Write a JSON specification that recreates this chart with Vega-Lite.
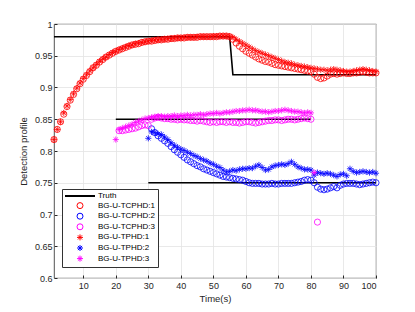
{
"$schema": "https://vega.github.io/schema/vega-lite/v6.json",
"width": 322, "height": 254,
"autosize": {"type": "none"},
"padding": {"left": 54, "top": 24, "right": 39, "bottom": 34},
"background": "white",
"config": {"view": {"stroke": "#262626", "strokeWidth": 0.8}, "font": "Liberation Sans"},
"datasets": {
"truth": [
{"series":"Truth","seg":"a","t":1,"v":0.98},{"series":"Truth","seg":"a","t":55,"v":0.98},{"series":"Truth","seg":"a","t":56,"v":0.92},{"series":"Truth","seg":"a","t":100,"v":0.92},
{"series":"Truth","seg":"b","t":20,"v":0.85},{"series":"Truth","seg":"b","t":80,"v":0.85},
{"series":"Truth","seg":"c","t":30,"v":0.75},{"series":"Truth","seg":"c","t":100,"v":0.75}
],
"pts": [
{"series":"BG-U-TCPHD:1","t":1,"v":0.818},{"series":"BG-U-TCPHD:1","t":2,"v":0.834},{"series":"BG-U-TCPHD:1","t":3,"v":0.846},{"series":"BG-U-TCPHD:1","t":4,"v":0.858},{"series":"BG-U-TCPHD:1","t":5,"v":0.870},{"series":"BG-U-TCPHD:1","t":6,"v":0.880},{"series":"BG-U-TCPHD:1","t":7,"v":0.889},{"series":"BG-U-TCPHD:1","t":8,"v":0.898},{"series":"BG-U-TCPHD:1","t":9,"v":0.906},{"series":"BG-U-TCPHD:1","t":10,"v":0.913},
{"series":"BG-U-TCPHD:1","t":11,"v":0.919},{"series":"BG-U-TCPHD:1","t":12,"v":0.925},{"series":"BG-U-TCPHD:1","t":13,"v":0.931},{"series":"BG-U-TCPHD:1","t":14,"v":0.935},{"series":"BG-U-TCPHD:1","t":15,"v":0.940},{"series":"BG-U-TCPHD:1","t":16,"v":0.944},{"series":"BG-U-TCPHD:1","t":17,"v":0.948},{"series":"BG-U-TCPHD:1","t":18,"v":0.951},{"series":"BG-U-TCPHD:1","t":19,"v":0.954},{"series":"BG-U-TCPHD:1","t":20,"v":0.957},
{"series":"BG-U-TCPHD:1","t":21,"v":0.959},{"series":"BG-U-TCPHD:1","t":22,"v":0.961},{"series":"BG-U-TCPHD:1","t":23,"v":0.963},{"series":"BG-U-TCPHD:1","t":24,"v":0.965},{"series":"BG-U-TCPHD:1","t":25,"v":0.967},{"series":"BG-U-TCPHD:1","t":26,"v":0.968},{"series":"BG-U-TCPHD:1","t":27,"v":0.969},{"series":"BG-U-TCPHD:1","t":28,"v":0.971},{"series":"BG-U-TCPHD:1","t":29,"v":0.972},{"series":"BG-U-TCPHD:1","t":30,"v":0.973},
{"series":"BG-U-TCPHD:1","t":31,"v":0.973},{"series":"BG-U-TCPHD:1","t":32,"v":0.974},{"series":"BG-U-TCPHD:1","t":33,"v":0.975},{"series":"BG-U-TCPHD:1","t":34,"v":0.975},{"series":"BG-U-TCPHD:1","t":35,"v":0.976},{"series":"BG-U-TCPHD:1","t":36,"v":0.976},{"series":"BG-U-TCPHD:1","t":37,"v":0.977},{"series":"BG-U-TCPHD:1","t":38,"v":0.977},{"series":"BG-U-TCPHD:1","t":39,"v":0.978},{"series":"BG-U-TCPHD:1","t":40,"v":0.978},
{"series":"BG-U-TCPHD:1","t":41,"v":0.978},{"series":"BG-U-TCPHD:1","t":42,"v":0.979},{"series":"BG-U-TCPHD:1","t":43,"v":0.979},{"series":"BG-U-TCPHD:1","t":44,"v":0.979},{"series":"BG-U-TCPHD:1","t":45,"v":0.979},{"series":"BG-U-TCPHD:1","t":46,"v":0.980},{"series":"BG-U-TCPHD:1","t":47,"v":0.980},{"series":"BG-U-TCPHD:1","t":48,"v":0.980},{"series":"BG-U-TCPHD:1","t":49,"v":0.980},{"series":"BG-U-TCPHD:1","t":50,"v":0.980},
{"series":"BG-U-TCPHD:1","t":51,"v":0.980},{"series":"BG-U-TCPHD:1","t":52,"v":0.981},{"series":"BG-U-TCPHD:1","t":53,"v":0.981},{"series":"BG-U-TCPHD:1","t":54,"v":0.981},{"series":"BG-U-TCPHD:1","t":55,"v":0.980},{"series":"BG-U-TCPHD:1","t":56,"v":0.976},{"series":"BG-U-TCPHD:1","t":57,"v":0.970},{"series":"BG-U-TCPHD:1","t":58,"v":0.965},{"series":"BG-U-TCPHD:1","t":59,"v":0.961},{"series":"BG-U-TCPHD:1","t":60,"v":0.957},
{"series":"BG-U-TCPHD:1","t":61,"v":0.954},{"series":"BG-U-TCPHD:1","t":62,"v":0.951},{"series":"BG-U-TCPHD:1","t":63,"v":0.948},{"series":"BG-U-TCPHD:1","t":64,"v":0.945},{"series":"BG-U-TCPHD:1","t":65,"v":0.943},{"series":"BG-U-TCPHD:1","t":66,"v":0.941},{"series":"BG-U-TCPHD:1","t":67,"v":0.940},{"series":"BG-U-TCPHD:1","t":68,"v":0.938},{"series":"BG-U-TCPHD:1","t":69,"v":0.936},{"series":"BG-U-TCPHD:1","t":70,"v":0.935},
{"series":"BG-U-TCPHD:1","t":71,"v":0.934},{"series":"BG-U-TCPHD:1","t":72,"v":0.933},{"series":"BG-U-TCPHD:1","t":73,"v":0.932},{"series":"BG-U-TCPHD:1","t":74,"v":0.931},{"series":"BG-U-TCPHD:1","t":75,"v":0.930},{"series":"BG-U-TCPHD:1","t":76,"v":0.929},{"series":"BG-U-TCPHD:1","t":77,"v":0.928},{"series":"BG-U-TCPHD:1","t":78,"v":0.927},{"series":"BG-U-TCPHD:1","t":79,"v":0.926},{"series":"BG-U-TCPHD:1","t":80,"v":0.925},
{"series":"BG-U-TCPHD:1","t":81,"v":0.921},{"series":"BG-U-TCPHD:1","t":82,"v":0.916},{"series":"BG-U-TCPHD:1","t":83,"v":0.914},{"series":"BG-U-TCPHD:1","t":84,"v":0.915},{"series":"BG-U-TCPHD:1","t":85,"v":0.918},{"series":"BG-U-TCPHD:1","t":86,"v":0.921},{"series":"BG-U-TCPHD:1","t":87,"v":0.922},{"series":"BG-U-TCPHD:1","t":88,"v":0.921},{"series":"BG-U-TCPHD:1","t":89,"v":0.922},{"series":"BG-U-TCPHD:1","t":90,"v":0.923},
{"series":"BG-U-TCPHD:1","t":91,"v":0.922},{"series":"BG-U-TCPHD:1","t":92,"v":0.922},{"series":"BG-U-TCPHD:1","t":93,"v":0.923},{"series":"BG-U-TCPHD:1","t":94,"v":0.923},{"series":"BG-U-TCPHD:1","t":95,"v":0.924},{"series":"BG-U-TCPHD:1","t":96,"v":0.925},{"series":"BG-U-TCPHD:1","t":97,"v":0.924},{"series":"BG-U-TCPHD:1","t":98,"v":0.923},{"series":"BG-U-TCPHD:1","t":99,"v":0.923},{"series":"BG-U-TCPHD:1","t":100,"v":0.923},

{"series":"BG-U-TCPHD:2","t":31,"v":0.835},{"series":"BG-U-TCPHD:2","t":32,"v":0.829},{"series":"BG-U-TCPHD:2","t":33,"v":0.824},{"series":"BG-U-TCPHD:2","t":34,"v":0.820},{"series":"BG-U-TCPHD:2","t":35,"v":0.816},{"series":"BG-U-TCPHD:2","t":36,"v":0.812},{"series":"BG-U-TCPHD:2","t":37,"v":0.807},{"series":"BG-U-TCPHD:2","t":38,"v":0.802},{"series":"BG-U-TCPHD:2","t":39,"v":0.798},{"series":"BG-U-TCPHD:2","t":40,"v":0.794},
{"series":"BG-U-TCPHD:2","t":41,"v":0.790},{"series":"BG-U-TCPHD:2","t":42,"v":0.786},{"series":"BG-U-TCPHD:2","t":43,"v":0.783},{"series":"BG-U-TCPHD:2","t":44,"v":0.780},{"series":"BG-U-TCPHD:2","t":45,"v":0.777},{"series":"BG-U-TCPHD:2","t":46,"v":0.775},{"series":"BG-U-TCPHD:2","t":47,"v":0.772},{"series":"BG-U-TCPHD:2","t":48,"v":0.770},{"series":"BG-U-TCPHD:2","t":49,"v":0.768},{"series":"BG-U-TCPHD:2","t":50,"v":0.766},
{"series":"BG-U-TCPHD:2","t":51,"v":0.764},{"series":"BG-U-TCPHD:2","t":52,"v":0.762},{"series":"BG-U-TCPHD:2","t":53,"v":0.760},{"series":"BG-U-TCPHD:2","t":54,"v":0.759},{"series":"BG-U-TCPHD:2","t":55,"v":0.758},{"series":"BG-U-TCPHD:2","t":56,"v":0.757},{"series":"BG-U-TCPHD:2","t":57,"v":0.756},{"series":"BG-U-TCPHD:2","t":58,"v":0.755},{"series":"BG-U-TCPHD:2","t":59,"v":0.754},{"series":"BG-U-TCPHD:2","t":60,"v":0.752},
{"series":"BG-U-TCPHD:2","t":61,"v":0.750},{"series":"BG-U-TCPHD:2","t":62,"v":0.749},{"series":"BG-U-TCPHD:2","t":63,"v":0.749},{"series":"BG-U-TCPHD:2","t":64,"v":0.749},{"series":"BG-U-TCPHD:2","t":65,"v":0.748},{"series":"BG-U-TCPHD:2","t":66,"v":0.748},{"series":"BG-U-TCPHD:2","t":67,"v":0.748},{"series":"BG-U-TCPHD:2","t":68,"v":0.749},{"series":"BG-U-TCPHD:2","t":69,"v":0.748},{"series":"BG-U-TCPHD:2","t":70,"v":0.748},
{"series":"BG-U-TCPHD:2","t":71,"v":0.749},{"series":"BG-U-TCPHD:2","t":72,"v":0.749},{"series":"BG-U-TCPHD:2","t":73,"v":0.749},{"series":"BG-U-TCPHD:2","t":74,"v":0.749},{"series":"BG-U-TCPHD:2","t":75,"v":0.750},{"series":"BG-U-TCPHD:2","t":76,"v":0.751},{"series":"BG-U-TCPHD:2","t":77,"v":0.752},{"series":"BG-U-TCPHD:2","t":78,"v":0.754},{"series":"BG-U-TCPHD:2","t":79,"v":0.755},{"series":"BG-U-TCPHD:2","t":80,"v":0.754},
{"series":"BG-U-TCPHD:2","t":81,"v":0.750},{"series":"BG-U-TCPHD:2","t":82,"v":0.743},{"series":"BG-U-TCPHD:2","t":83,"v":0.740},{"series":"BG-U-TCPHD:2","t":84,"v":0.739},{"series":"BG-U-TCPHD:2","t":85,"v":0.740},{"series":"BG-U-TCPHD:2","t":86,"v":0.742},{"series":"BG-U-TCPHD:2","t":87,"v":0.744},{"series":"BG-U-TCPHD:2","t":88,"v":0.742},{"series":"BG-U-TCPHD:2","t":89,"v":0.746},{"series":"BG-U-TCPHD:2","t":90,"v":0.748},
{"series":"BG-U-TCPHD:2","t":91,"v":0.749},{"series":"BG-U-TCPHD:2","t":92,"v":0.749},{"series":"BG-U-TCPHD:2","t":93,"v":0.749},{"series":"BG-U-TCPHD:2","t":94,"v":0.748},{"series":"BG-U-TCPHD:2","t":95,"v":0.747},{"series":"BG-U-TCPHD:2","t":96,"v":0.748},{"series":"BG-U-TCPHD:2","t":97,"v":0.749},{"series":"BG-U-TCPHD:2","t":98,"v":0.750},{"series":"BG-U-TCPHD:2","t":99,"v":0.751},{"series":"BG-U-TCPHD:2","t":100,"v":0.750},

{"series":"BG-U-TCPHD:3","t":21,"v":0.832},{"series":"BG-U-TCPHD:3","t":22,"v":0.832},{"series":"BG-U-TCPHD:3","t":23,"v":0.833},{"series":"BG-U-TCPHD:3","t":24,"v":0.834},{"series":"BG-U-TCPHD:3","t":25,"v":0.835},{"series":"BG-U-TCPHD:3","t":26,"v":0.836},{"series":"BG-U-TCPHD:3","t":27,"v":0.838},{"series":"BG-U-TCPHD:3","t":28,"v":0.840},{"series":"BG-U-TCPHD:3","t":29,"v":0.841},{"series":"BG-U-TCPHD:3","t":30,"v":0.840},
{"series":"BG-U-TCPHD:3","t":31,"v":0.850},{"series":"BG-U-TCPHD:3","t":32,"v":0.852},{"series":"BG-U-TCPHD:3","t":33,"v":0.853},{"series":"BG-U-TCPHD:3","t":34,"v":0.852},{"series":"BG-U-TCPHD:3","t":35,"v":0.851},{"series":"BG-U-TCPHD:3","t":36,"v":0.851},{"series":"BG-U-TCPHD:3","t":37,"v":0.850},{"series":"BG-U-TCPHD:3","t":38,"v":0.850},{"series":"BG-U-TCPHD:3","t":39,"v":0.849},{"series":"BG-U-TCPHD:3","t":40,"v":0.850},
{"series":"BG-U-TCPHD:3","t":41,"v":0.849},{"series":"BG-U-TCPHD:3","t":42,"v":0.849},{"series":"BG-U-TCPHD:3","t":43,"v":0.848},{"series":"BG-U-TCPHD:3","t":44,"v":0.848},{"series":"BG-U-TCPHD:3","t":45,"v":0.847},{"series":"BG-U-TCPHD:3","t":46,"v":0.848},{"series":"BG-U-TCPHD:3","t":47,"v":0.847},{"series":"BG-U-TCPHD:3","t":48,"v":0.846},{"series":"BG-U-TCPHD:3","t":49,"v":0.845},{"series":"BG-U-TCPHD:3","t":50,"v":0.846},
{"series":"BG-U-TCPHD:3","t":51,"v":0.845},{"series":"BG-U-TCPHD:3","t":52,"v":0.846},{"series":"BG-U-TCPHD:3","t":53,"v":0.846},{"series":"BG-U-TCPHD:3","t":54,"v":0.845},{"series":"BG-U-TCPHD:3","t":55,"v":0.846},{"series":"BG-U-TCPHD:3","t":56,"v":0.845},{"series":"BG-U-TCPHD:3","t":57,"v":0.845},{"series":"BG-U-TCPHD:3","t":58,"v":0.844},{"series":"BG-U-TCPHD:3","t":59,"v":0.845},{"series":"BG-U-TCPHD:3","t":60,"v":0.846},
{"series":"BG-U-TCPHD:3","t":61,"v":0.846},{"series":"BG-U-TCPHD:3","t":62,"v":0.845},{"series":"BG-U-TCPHD:3","t":63,"v":0.844},{"series":"BG-U-TCPHD:3","t":64,"v":0.845},{"series":"BG-U-TCPHD:3","t":65,"v":0.846},{"series":"BG-U-TCPHD:3","t":66,"v":0.847},{"series":"BG-U-TCPHD:3","t":67,"v":0.848},{"series":"BG-U-TCPHD:3","t":68,"v":0.848},{"series":"BG-U-TCPHD:3","t":69,"v":0.849},{"series":"BG-U-TCPHD:3","t":70,"v":0.849},
{"series":"BG-U-TCPHD:3","t":71,"v":0.848},{"series":"BG-U-TCPHD:3","t":72,"v":0.849},{"series":"BG-U-TCPHD:3","t":73,"v":0.850},{"series":"BG-U-TCPHD:3","t":74,"v":0.850},{"series":"BG-U-TCPHD:3","t":75,"v":0.849},{"series":"BG-U-TCPHD:3","t":76,"v":0.850},{"series":"BG-U-TCPHD:3","t":77,"v":0.851},{"series":"BG-U-TCPHD:3","t":78,"v":0.852},{"series":"BG-U-TCPHD:3","t":79,"v":0.851},{"series":"BG-U-TCPHD:3","t":80,"v":0.850},
{"series":"BG-U-TCPHD:3","t":82,"v":0.688},

{"series":"BG-U-TPHD:1","t":1,"v":0.818},{"series":"BG-U-TPHD:1","t":2,"v":0.834},{"series":"BG-U-TPHD:1","t":3,"v":0.846},{"series":"BG-U-TPHD:1","t":4,"v":0.860},{"series":"BG-U-TPHD:1","t":5,"v":0.871},{"series":"BG-U-TPHD:1","t":6,"v":0.881},{"series":"BG-U-TPHD:1","t":7,"v":0.890},{"series":"BG-U-TPHD:1","t":8,"v":0.899},{"series":"BG-U-TPHD:1","t":9,"v":0.907},{"series":"BG-U-TPHD:1","t":10,"v":0.914},
{"series":"BG-U-TPHD:1","t":11,"v":0.920},{"series":"BG-U-TPHD:1","t":12,"v":0.926},{"series":"BG-U-TPHD:1","t":13,"v":0.931},{"series":"BG-U-TPHD:1","t":14,"v":0.936},{"series":"BG-U-TPHD:1","t":15,"v":0.941},{"series":"BG-U-TPHD:1","t":16,"v":0.945},{"series":"BG-U-TPHD:1","t":17,"v":0.948},{"series":"BG-U-TPHD:1","t":18,"v":0.952},{"series":"BG-U-TPHD:1","t":19,"v":0.955},{"series":"BG-U-TPHD:1","t":20,"v":0.957},
{"series":"BG-U-TPHD:1","t":21,"v":0.960},{"series":"BG-U-TPHD:1","t":22,"v":0.962},{"series":"BG-U-TPHD:1","t":23,"v":0.964},{"series":"BG-U-TPHD:1","t":24,"v":0.966},{"series":"BG-U-TPHD:1","t":25,"v":0.967},{"series":"BG-U-TPHD:1","t":26,"v":0.969},{"series":"BG-U-TPHD:1","t":27,"v":0.970},{"series":"BG-U-TPHD:1","t":28,"v":0.971},{"series":"BG-U-TPHD:1","t":29,"v":0.972},{"series":"BG-U-TPHD:1","t":30,"v":0.973},
{"series":"BG-U-TPHD:1","t":31,"v":0.974},{"series":"BG-U-TPHD:1","t":32,"v":0.975},{"series":"BG-U-TPHD:1","t":33,"v":0.975},{"series":"BG-U-TPHD:1","t":34,"v":0.976},{"series":"BG-U-TPHD:1","t":35,"v":0.976},{"series":"BG-U-TPHD:1","t":36,"v":0.977},{"series":"BG-U-TPHD:1","t":37,"v":0.977},{"series":"BG-U-TPHD:1","t":38,"v":0.978},{"series":"BG-U-TPHD:1","t":39,"v":0.978},{"series":"BG-U-TPHD:1","t":40,"v":0.978},
{"series":"BG-U-TPHD:1","t":41,"v":0.979},{"series":"BG-U-TPHD:1","t":42,"v":0.979},{"series":"BG-U-TPHD:1","t":43,"v":0.979},{"series":"BG-U-TPHD:1","t":44,"v":0.979},{"series":"BG-U-TPHD:1","t":45,"v":0.980},{"series":"BG-U-TPHD:1","t":46,"v":0.980},{"series":"BG-U-TPHD:1","t":47,"v":0.980},{"series":"BG-U-TPHD:1","t":48,"v":0.980},{"series":"BG-U-TPHD:1","t":49,"v":0.980},{"series":"BG-U-TPHD:1","t":50,"v":0.981},
{"series":"BG-U-TPHD:1","t":51,"v":0.981},{"series":"BG-U-TPHD:1","t":52,"v":0.981},{"series":"BG-U-TPHD:1","t":53,"v":0.981},{"series":"BG-U-TPHD:1","t":54,"v":0.981},{"series":"BG-U-TPHD:1","t":55,"v":0.981},{"series":"BG-U-TPHD:1","t":56,"v":0.979},{"series":"BG-U-TPHD:1","t":57,"v":0.976},{"series":"BG-U-TPHD:1","t":58,"v":0.973},{"series":"BG-U-TPHD:1","t":59,"v":0.970},{"series":"BG-U-TPHD:1","t":60,"v":0.967},
{"series":"BG-U-TPHD:1","t":61,"v":0.964},{"series":"BG-U-TPHD:1","t":62,"v":0.961},{"series":"BG-U-TPHD:1","t":63,"v":0.958},{"series":"BG-U-TPHD:1","t":64,"v":0.956},{"series":"BG-U-TPHD:1","t":65,"v":0.954},{"series":"BG-U-TPHD:1","t":66,"v":0.952},{"series":"BG-U-TPHD:1","t":67,"v":0.950},{"series":"BG-U-TPHD:1","t":68,"v":0.948},{"series":"BG-U-TPHD:1","t":69,"v":0.946},{"series":"BG-U-TPHD:1","t":70,"v":0.944},
{"series":"BG-U-TPHD:1","t":71,"v":0.942},{"series":"BG-U-TPHD:1","t":72,"v":0.940},{"series":"BG-U-TPHD:1","t":73,"v":0.939},{"series":"BG-U-TPHD:1","t":74,"v":0.938},{"series":"BG-U-TPHD:1","t":75,"v":0.936},{"series":"BG-U-TPHD:1","t":76,"v":0.935},{"series":"BG-U-TPHD:1","t":77,"v":0.934},{"series":"BG-U-TPHD:1","t":78,"v":0.933},{"series":"BG-U-TPHD:1","t":79,"v":0.932},{"series":"BG-U-TPHD:1","t":80,"v":0.931},
{"series":"BG-U-TPHD:1","t":81,"v":0.930},{"series":"BG-U-TPHD:1","t":82,"v":0.929},{"series":"BG-U-TPHD:1","t":83,"v":0.928},{"series":"BG-U-TPHD:1","t":84,"v":0.928},{"series":"BG-U-TPHD:1","t":85,"v":0.927},{"series":"BG-U-TPHD:1","t":86,"v":0.928},{"series":"BG-U-TPHD:1","t":87,"v":0.929},{"series":"BG-U-TPHD:1","t":88,"v":0.928},{"series":"BG-U-TPHD:1","t":89,"v":0.927},{"series":"BG-U-TPHD:1","t":90,"v":0.926},
{"series":"BG-U-TPHD:1","t":91,"v":0.925},{"series":"BG-U-TPHD:1","t":92,"v":0.925},{"series":"BG-U-TPHD:1","t":93,"v":0.926},{"series":"BG-U-TPHD:1","t":94,"v":0.927},{"series":"BG-U-TPHD:1","t":95,"v":0.928},{"series":"BG-U-TPHD:1","t":96,"v":0.929},{"series":"BG-U-TPHD:1","t":97,"v":0.928},{"series":"BG-U-TPHD:1","t":98,"v":0.927},{"series":"BG-U-TPHD:1","t":99,"v":0.926},{"series":"BG-U-TPHD:1","t":100,"v":0.925},

{"series":"BG-U-TPHD:2","t":30,"v":0.820},{"series":"BG-U-TPHD:2","t":31,"v":0.830},{"series":"BG-U-TPHD:2","t":32,"v":0.829},{"series":"BG-U-TPHD:2","t":33,"v":0.827},{"series":"BG-U-TPHD:2","t":34,"v":0.826},{"series":"BG-U-TPHD:2","t":35,"v":0.822},{"series":"BG-U-TPHD:2","t":36,"v":0.818},{"series":"BG-U-TPHD:2","t":37,"v":0.813},{"series":"BG-U-TPHD:2","t":38,"v":0.809},{"series":"BG-U-TPHD:2","t":39,"v":0.806},{"series":"BG-U-TPHD:2","t":40,"v":0.803},
{"series":"BG-U-TPHD:2","t":41,"v":0.801},{"series":"BG-U-TPHD:2","t":42,"v":0.798},{"series":"BG-U-TPHD:2","t":43,"v":0.796},{"series":"BG-U-TPHD:2","t":44,"v":0.793},{"series":"BG-U-TPHD:2","t":45,"v":0.791},{"series":"BG-U-TPHD:2","t":46,"v":0.788},{"series":"BG-U-TPHD:2","t":47,"v":0.786},{"series":"BG-U-TPHD:2","t":48,"v":0.784},{"series":"BG-U-TPHD:2","t":49,"v":0.781},{"series":"BG-U-TPHD:2","t":50,"v":0.779},
{"series":"BG-U-TPHD:2","t":51,"v":0.776},{"series":"BG-U-TPHD:2","t":52,"v":0.774},{"series":"BG-U-TPHD:2","t":53,"v":0.770},{"series":"BG-U-TPHD:2","t":54,"v":0.767},{"series":"BG-U-TPHD:2","t":55,"v":0.768},{"series":"BG-U-TPHD:2","t":56,"v":0.770},{"series":"BG-U-TPHD:2","t":57,"v":0.769},{"series":"BG-U-TPHD:2","t":58,"v":0.771},{"series":"BG-U-TPHD:2","t":59,"v":0.772},{"series":"BG-U-TPHD:2","t":60,"v":0.772},
{"series":"BG-U-TPHD:2","t":61,"v":0.773},{"series":"BG-U-TPHD:2","t":62,"v":0.773},{"series":"BG-U-TPHD:2","t":63,"v":0.776},{"series":"BG-U-TPHD:2","t":64,"v":0.778},{"series":"BG-U-TPHD:2","t":65,"v":0.774},{"series":"BG-U-TPHD:2","t":66,"v":0.770},{"series":"BG-U-TPHD:2","t":67,"v":0.771},{"series":"BG-U-TPHD:2","t":68,"v":0.775},{"series":"BG-U-TPHD:2","t":69,"v":0.777},{"series":"BG-U-TPHD:2","t":70,"v":0.778},
{"series":"BG-U-TPHD:2","t":71,"v":0.779},{"series":"BG-U-TPHD:2","t":72,"v":0.778},{"series":"BG-U-TPHD:2","t":73,"v":0.780},{"series":"BG-U-TPHD:2","t":74,"v":0.783},{"series":"BG-U-TPHD:2","t":75,"v":0.779},{"series":"BG-U-TPHD:2","t":76,"v":0.775},{"series":"BG-U-TPHD:2","t":77,"v":0.773},{"series":"BG-U-TPHD:2","t":78,"v":0.771},{"series":"BG-U-TPHD:2","t":79,"v":0.771},{"series":"BG-U-TPHD:2","t":80,"v":0.770},
{"series":"BG-U-TPHD:2","t":81,"v":0.762},{"series":"BG-U-TPHD:2","t":82,"v":0.766},{"series":"BG-U-TPHD:2","t":83,"v":0.765},{"series":"BG-U-TPHD:2","t":84,"v":0.764},{"series":"BG-U-TPHD:2","t":85,"v":0.765},{"series":"BG-U-TPHD:2","t":86,"v":0.764},{"series":"BG-U-TPHD:2","t":87,"v":0.762},{"series":"BG-U-TPHD:2","t":88,"v":0.760},{"series":"BG-U-TPHD:2","t":89,"v":0.763},{"series":"BG-U-TPHD:2","t":90,"v":0.764},
{"series":"BG-U-TPHD:2","t":91,"v":0.761},{"series":"BG-U-TPHD:2","t":92,"v":0.772},{"series":"BG-U-TPHD:2","t":93,"v":0.768},{"series":"BG-U-TPHD:2","t":94,"v":0.766},{"series":"BG-U-TPHD:2","t":95,"v":0.767},{"series":"BG-U-TPHD:2","t":96,"v":0.768},{"series":"BG-U-TPHD:2","t":97,"v":0.767},{"series":"BG-U-TPHD:2","t":98,"v":0.766},{"series":"BG-U-TPHD:2","t":99,"v":0.767},{"series":"BG-U-TPHD:2","t":100,"v":0.765},

{"series":"BG-U-TPHD:3","t":20,"v":0.818},{"series":"BG-U-TPHD:3","t":21,"v":0.834},{"series":"BG-U-TPHD:3","t":22,"v":0.836},{"series":"BG-U-TPHD:3","t":23,"v":0.838},{"series":"BG-U-TPHD:3","t":24,"v":0.840},{"series":"BG-U-TPHD:3","t":25,"v":0.842},{"series":"BG-U-TPHD:3","t":26,"v":0.845},{"series":"BG-U-TPHD:3","t":27,"v":0.847},{"series":"BG-U-TPHD:3","t":28,"v":0.849},{"series":"BG-U-TPHD:3","t":29,"v":0.851},{"series":"BG-U-TPHD:3","t":30,"v":0.852},
{"series":"BG-U-TPHD:3","t":31,"v":0.853},{"series":"BG-U-TPHD:3","t":32,"v":0.854},{"series":"BG-U-TPHD:3","t":33,"v":0.855},{"series":"BG-U-TPHD:3","t":34,"v":0.855},{"series":"BG-U-TPHD:3","t":35,"v":0.854},{"series":"BG-U-TPHD:3","t":36,"v":0.855},{"series":"BG-U-TPHD:3","t":37,"v":0.855},{"series":"BG-U-TPHD:3","t":38,"v":0.856},{"series":"BG-U-TPHD:3","t":39,"v":0.855},{"series":"BG-U-TPHD:3","t":40,"v":0.856},
{"series":"BG-U-TPHD:3","t":41,"v":0.856},{"series":"BG-U-TPHD:3","t":42,"v":0.857},{"series":"BG-U-TPHD:3","t":43,"v":0.856},{"series":"BG-U-TPHD:3","t":44,"v":0.857},{"series":"BG-U-TPHD:3","t":45,"v":0.857},{"series":"BG-U-TPHD:3","t":46,"v":0.858},{"series":"BG-U-TPHD:3","t":47,"v":0.857},{"series":"BG-U-TPHD:3","t":48,"v":0.858},{"series":"BG-U-TPHD:3","t":49,"v":0.859},{"series":"BG-U-TPHD:3","t":50,"v":0.859},
{"series":"BG-U-TPHD:3","t":51,"v":0.860},{"series":"BG-U-TPHD:3","t":52,"v":0.859},{"series":"BG-U-TPHD:3","t":53,"v":0.860},{"series":"BG-U-TPHD:3","t":54,"v":0.861},{"series":"BG-U-TPHD:3","t":55,"v":0.861},{"series":"BG-U-TPHD:3","t":56,"v":0.862},{"series":"BG-U-TPHD:3","t":57,"v":0.863},{"series":"BG-U-TPHD:3","t":58,"v":0.863},{"series":"BG-U-TPHD:3","t":59,"v":0.864},{"series":"BG-U-TPHD:3","t":60,"v":0.864},
{"series":"BG-U-TPHD:3","t":61,"v":0.865},{"series":"BG-U-TPHD:3","t":62,"v":0.864},{"series":"BG-U-TPHD:3","t":63,"v":0.864},{"series":"BG-U-TPHD:3","t":64,"v":0.863},{"series":"BG-U-TPHD:3","t":65,"v":0.862},{"series":"BG-U-TPHD:3","t":66,"v":0.862},{"series":"BG-U-TPHD:3","t":67,"v":0.861},{"series":"BG-U-TPHD:3","t":68,"v":0.862},{"series":"BG-U-TPHD:3","t":69,"v":0.863},{"series":"BG-U-TPHD:3","t":70,"v":0.863},
{"series":"BG-U-TPHD:3","t":71,"v":0.864},{"series":"BG-U-TPHD:3","t":72,"v":0.865},{"series":"BG-U-TPHD:3","t":73,"v":0.864},{"series":"BG-U-TPHD:3","t":74,"v":0.863},{"series":"BG-U-TPHD:3","t":75,"v":0.862},{"series":"BG-U-TPHD:3","t":76,"v":0.862},{"series":"BG-U-TPHD:3","t":77,"v":0.861},{"series":"BG-U-TPHD:3","t":78,"v":0.860},{"series":"BG-U-TPHD:3","t":79,"v":0.861},{"series":"BG-U-TPHD:3","t":80,"v":0.860},
{"series":"BG-U-TPHD:3","t":81,"v":0.766}
]
},
"encoding": {
  "x": {"field": "t", "type": "quantitative", "title": "Time(s)",
    "scale": {"domain": [1, 100], "nice": false, "zero": false},
    "axis": {"values": [10,20,30,40,50,60,70,80,90,100], "grid": true, "gridColor": "#e3e3e3", "gridWidth": 0.8,
      "domain": false, "tickColor": "#262626", "tickSize": -3, "labelPadding": 6, "labelFontSize": 9, "labelColor": "#262626",
      "titleFontSize": 9.5, "titleFontWeight": "normal", "titleColor": "#262626", "titlePadding": 3}},
  "y": {"field": "v", "type": "quantitative", "title": "Detection profile",
    "scale": {"domain": [0.6, 1], "nice": false, "zero": false},
    "axis": {"values": [0.6,0.65,0.7,0.75,0.8,0.85,0.9,0.95,1], "format": "~g", "grid": true, "gridColor": "#e3e3e3", "gridWidth": 0.8,
      "domain": false, "tickColor": "#262626", "tickSize": -3, "labelPadding": 5, "labelFontSize": 9, "labelColor": "#262626",
      "titleFontSize": 9.5, "titleFontWeight": "normal", "titleColor": "#262626", "titlePadding": 6}},
  "color": {"field": "series", "type": "nominal",
    "scale": {"domain": ["Truth","BG-U-TCPHD:1","BG-U-TCPHD:2","BG-U-TCPHD:3","BG-U-TPHD:1","BG-U-TPHD:2","BG-U-TPHD:3"],
              "range": ["#000000","#ff0000","#0000ff","#ff00ff","#ff0000","#0000ff","#ff00ff"]},
    "legend": {"title": null, "orient": "none", "legendX": 8, "legendY": 165, "padding": 3,
       "strokeColor": "#333333", "fillColor": "white", "cornerRadius": 0,
       "labelFontSize": 8, "labelColor": "#000000", "labelOffset": 14, "symbolOffset": 11,
       "rowPadding": 0.6, "symbolSize": 36, "symbolStrokeWidth": 1,
       "encode": {"symbols": {"update": {"strokeWidth": {"signal": "datum.value === 'Truth' ? 2 : 1"}}}}}}
},
"layer": [
  {"data": {"name": "truth"}, "mark": {"type": "line", "strokeWidth": 1.6},
   "encoding": {"detail": {"field": "seg"}}},
  {"data": {"name": "pts"}, "mark": {"type": "point", "filled": false, "strokeWidth": 0.8, "size": 38, "opacity": 1},
   "encoding": {"shape": {"field": "series", "type": "nominal",
      "scale": {"domain": ["Truth","BG-U-TCPHD:1","BG-U-TCPHD:2","BG-U-TCPHD:3","BG-U-TPHD:1","BG-U-TPHD:2","BG-U-TPHD:3"],
        "range": ["M-5,0L5,0","circle","circle","circle","M-1,0L1,0M0,-1L0,1M-0.7,-0.7L0.7,0.7M-0.7,0.7L0.7,-0.7","M-1,0L1,0M0,-1L0,1M-0.7,-0.7L0.7,0.7M-0.7,0.7L0.7,-0.7","M-1,0L1,0M0,-1L0,1M-0.7,-0.7L0.7,0.7M-0.7,0.7L0.7,-0.7"]},
      "legend": null}}}
]
}
